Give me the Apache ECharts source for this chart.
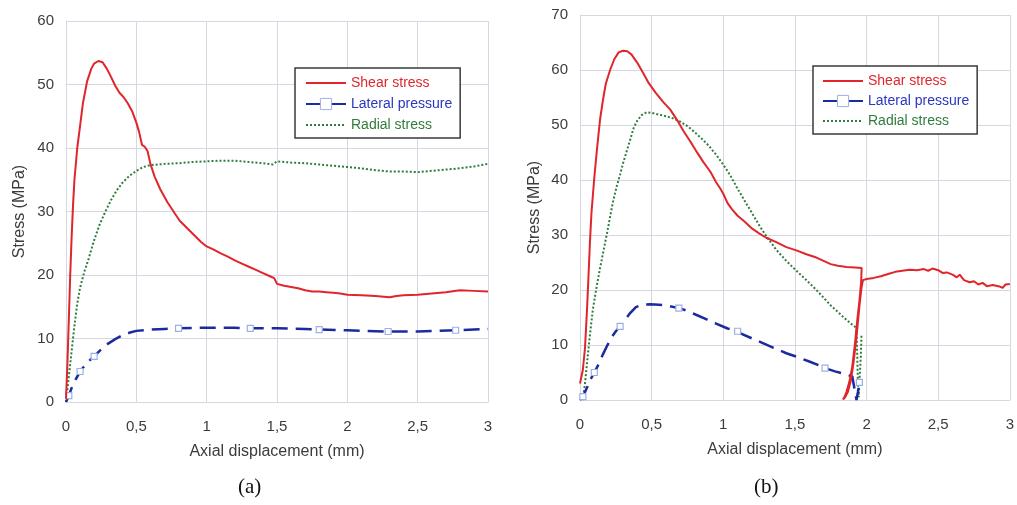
<!DOCTYPE html>
<html>
<head>
<meta charset="utf-8">
<script src="https://cdn.jsdelivr.net/npm/echarts@6/dist/echarts.min.js"></script>
<style>
  html, body { margin: 0; padding: 0; background: #fff; }
  #chart { width: 1017px; height: 505px; }
</style>
</head>
<body>
<div id="chart"></div>
<script>
// Axis ticks
const xTicks = [0, 0.5, 1, 1.5, 2, 2.5, 3];
const yMaxA = 60;
const yMaxB = 70;
const seriesNames = ['Shear stress', 'Lateral pressure', 'Radial stress'];

// (a) — [axial displacement (mm), stress (MPa)]
const shearA = [[0,0.5],[0.01,6],[0.02,13],[0.03,20],[0.04,26],[0.05,31],[0.06,35],[0.08,40],[0.10,43.5],[0.12,47],[0.15,50.5],[0.18,52.5],[0.20,53.3],[0.23,53.7],[0.26,53.5],[0.29,52.5],[0.32,51.2],[0.35,49.8],[0.38,48.7],[0.41,48],[0.44,47],[0.47,45.8],[0.50,44],[0.52,42.5],[0.54,40.5],[0.56,40.2],[0.58,39.5],[0.60,37.5],[0.63,35.5],[0.67,33.5],[0.72,31.5],[0.77,29.8],[0.81,28.5],[0.86,27.4],[0.91,26.3],[0.96,25.2],[1.0,24.5],[1.05,24],[1.1,23.4],[1.15,22.9],[1.2,22.3],[1.25,21.8],[1.3,21.3],[1.35,20.8],[1.4,20.3],[1.45,19.8],[1.48,19.5],[1.5,18.6],[1.55,18.3],[1.6,18.1],[1.65,17.9],[1.7,17.6],[1.75,17.4],[1.8,17.4],[1.85,17.3],[1.9,17.2],[1.95,17.1],[2.0,16.9],[2.1,16.8],[2.2,16.7],[2.3,16.5],[2.35,16.7],[2.4,16.8],[2.5,16.9],[2.6,17.1],[2.7,17.3],[2.8,17.6],[2.9,17.5],[3.0,17.4]];
const lateralA = [[0,0],[0.02,1],[0.05,2.8],[0.1,4.8],[0.15,6.2],[0.2,7.2],[0.25,8.3],[0.3,9.2],[0.35,9.9],[0.4,10.5],[0.45,10.9],[0.5,11.2],[0.6,11.4],[0.7,11.5],[0.8,11.6],[1.0,11.7],[1.2,11.7],[1.31,11.6],[1.5,11.6],[1.7,11.5],[1.8,11.4],[2.0,11.3],[2.29,11.1],[2.5,11.1],[2.77,11.3],[3.0,11.5]];
const radialA = [[0,0],[0.02,4],[0.04,8],[0.06,12],[0.08,15.5],[0.1,18],[0.13,20.5],[0.16,22.5],[0.2,25.5],[0.24,28],[0.28,30],[0.32,31.8],[0.36,33.3],[0.4,34.5],[0.45,35.6],[0.5,36.4],[0.55,37],[0.6,37.3],[0.7,37.5],[0.8,37.6],[0.9,37.8],[1.0,37.9],[1.1,38],[1.2,38],[1.3,37.8],[1.4,37.6],[1.47,37.4],[1.5,37.9],[1.6,37.7],[1.7,37.6],[1.8,37.4],[1.9,37.2],[2.0,37],[2.1,36.8],[2.2,36.5],[2.3,36.3],[2.4,36.3],[2.5,36.2],[2.6,36.4],[2.7,36.6],[2.8,36.8],[2.9,37.1],[3.0,37.5]];
const lateralMarksA = [0.02, 0.1, 0.2, 0.8, 1.31, 1.8, 2.29, 2.77];

// (b) — [axial displacement (mm), stress (MPa)]
const shearB = [[0,3],[0.02,5.5],[0.035,9.5],[0.05,17],[0.06,23],[0.07,29],[0.08,34],[0.1,40.5],[0.12,46],[0.14,51],[0.16,54.5],[0.18,57.5],[0.21,60],[0.24,62],[0.27,63.2],[0.3,63.5],[0.33,63.4],[0.36,62.8],[0.4,61.3],[0.44,59.5],[0.48,57.6],[0.53,55.8],[0.58,54.2],[0.63,52.8],[0.68,50.8],[0.72,49],[0.77,47],[0.81,45.3],[0.86,43.3],[0.91,41.5],[0.95,39.6],[0.98,38.4],[1.0,37.5],[1.03,35.8],[1.06,34.7],[1.1,33.5],[1.15,32.4],[1.2,31.2],[1.25,30.3],[1.3,29.5],[1.37,28.7],[1.44,27.8],[1.51,27.2],[1.58,26.5],[1.65,25.9],[1.7,25.3],[1.75,24.7],[1.8,24.4],[1.86,24.2],[1.92,24.1],[1.966,24.0],[1.962,21.4],[1.95,18],[1.935,14.5],[1.918,10],[1.9,6],[1.88,3.3],[1.86,1.5],[1.845,0.5],[1.835,0.1],[1.85,0.5],[1.87,1.5],[1.89,3.5],[1.91,7],[1.93,11.5],[1.95,17],[1.965,20.5],[1.975,21.8],[2.0,22.0],[2.05,22.2],[2.1,22.5],[2.15,22.9],[2.2,23.3],[2.25,23.5],[2.3,23.7],[2.35,23.6],[2.4,23.8],[2.43,23.5],[2.46,23.9],[2.5,23.6],[2.53,23.1],[2.56,23.2],[2.6,22.8],[2.63,22.3],[2.65,22.8],[2.68,21.8],[2.72,21.4],[2.75,21.6],[2.78,21.0],[2.81,21.3],[2.84,20.7],[2.88,20.9],[2.92,20.7],[2.95,20.4],[2.97,21.0],[3.0,21.1]];
const lateralB = [[0,0],[0.02,0.6],[0.05,2.3],[0.07,3.6],[0.1,5],[0.13,6.5],[0.16,8.3],[0.19,9.9],[0.22,11.4],[0.25,12.5],[0.28,13.4],[0.31,14.4],[0.35,15.8],[0.39,16.9],[0.43,17.3],[0.49,17.4],[0.55,17.3],[0.6,17.2],[0.69,16.7],[0.75,16.2],[0.81,15.5],[0.88,14.7],[0.95,13.9],[1.03,13.0],[1.1,12.5],[1.12,12.1],[1.2,11.2],[1.28,10.3],[1.36,9.4],[1.44,8.5],[1.52,7.8],[1.6,7.0],[1.66,6.4],[1.71,5.8],[1.78,5.2],[1.84,4.8],[1.9,4.3],[1.915,2.2],[1.93,0],[1.94,1.5],[1.95,3.2],[1.955,3.8]];
const radialB = [[0.02,0],[0.035,3],[0.05,7],[0.07,12],[0.09,16.5],[0.116,20.6],[0.14,24],[0.163,27],[0.19,30.5],[0.21,33.3],[0.23,36],[0.256,38.8],[0.28,41],[0.30,43],[0.33,45.6],[0.35,47.3],[0.375,49.5],[0.4,50.8],[0.43,51.8],[0.465,52.3],[0.5,52.2],[0.55,51.9],[0.6,51.6],[0.65,51.2],[0.7,50.6],[0.75,49.8],[0.8,48.7],[0.85,47.5],[0.9,46.2],[0.95,44.6],[1.0,42.8],[1.05,40.8],[1.1,38.4],[1.15,36.2],[1.2,34],[1.25,31.8],[1.3,29.8],[1.37,27.3],[1.44,25.3],[1.51,23.5],[1.58,21.8],[1.65,20],[1.7,18.6],[1.75,17.2],[1.8,16],[1.85,14.8],[1.9,13.7],[1.93,13.1],[1.935,8],[1.94,3],[1.945,0.5],[1.95,3],[1.96,8],[1.965,12]];
const lateralMarksB = [0.02, 0.1, 0.28, 0.69, 1.1, 1.71, 1.95];

const FONT = '"Liberation Sans", Arial, sans-serif';
const RED = '#e0252b';
const BLUE = '#1c2aa0';
const GREEN = '#2f7d3b';
const GRID_LINE = '#d6d7e2';
const TEXT = '#3c3c3c';

// Put hollow squares only on the chosen points of the lateral pressure curve
function withMarks(points, marks) {
  return points.map(p => marks.indexOf(p[0]) >= 0
    ? { value: p }
    : { value: p, symbol: 'none' });
}

function xAxis(gridIndex, nameGap) {
  return {
    type: 'value', gridIndex, min: xTicks[0], max: xTicks[xTicks.length - 1], interval: 0.5,
    name: 'Axial displacement (mm)', nameLocation: 'middle', nameGap,
    nameTextStyle: { fontFamily: FONT, fontSize: 16, color: TEXT },
    axisLine: { show: true, lineStyle: { color: GRID_LINE, width: 1 } },
    axisTick: { show: false },
    axisLabel: {
      fontFamily: FONT, fontSize: 15, color: TEXT, margin: 17,
      formatter: v => String(v).replace('.', ',')
    },
    splitLine: { show: true, showMinLine: true, showMaxLine: true, lineStyle: { color: GRID_LINE, width: 1 } }
  };
}

function yAxis(gridIndex, max, nameGap) {
  return {
    type: 'value', gridIndex, min: 0, max, interval: 10,
    name: 'Stress (MPa)', nameLocation: 'middle', nameGap,
    nameTextStyle: { fontFamily: FONT, fontSize: 16, color: TEXT },
    axisLine: { show: true, lineStyle: { color: GRID_LINE, width: 1 } },
    axisTick: { show: false },
    axisLabel: { fontFamily: FONT, fontSize: 15, color: TEXT, margin: 12 },
    splitLine: { show: true, showMinLine: true, showMaxLine: true, lineStyle: { color: GRID_LINE, width: 1 } }
  };
}

function curves(idx, shear, lateral, radial, marks) {
  return [
    {
      name: seriesNames[0], type: 'line', xAxisIndex: idx, yAxisIndex: idx,
      data: shear, symbol: 'none', smooth: false,
      lineStyle: { color: RED, width: 2 }, itemStyle: { color: RED }, z: 3
    },
    {
      name: seriesNames[1], type: 'line', xAxisIndex: idx, yAxisIndex: idx,
      data: withMarks(lateral, marks), symbol: 'rect', symbolSize: 6,
      showSymbol: true, showAllSymbol: true,
      lineStyle: { color: BLUE, width: 2.5, type: [16, 8] },
      itemStyle: { color: '#ffffff', borderColor: '#9db0e6', borderWidth: 1.2 }, z: 2
    },
    {
      name: seriesNames[2], type: 'line', xAxisIndex: idx, yAxisIndex: idx,
      data: radial, symbol: 'none',
      lineStyle: { color: GREEN, width: 2, type: [2, 2] }, itemStyle: { color: GREEN }, z: 1
    }
  ];
}

function legend(left, top, itemGap, padding) {
  return {
    orient: 'vertical', left, top, itemGap, padding,
    itemWidth: 40, itemHeight: 14,
    backgroundColor: '#ffffff', borderColor: '#3a3a3a', borderWidth: 1.5, borderRadius: 0,
    textStyle: { fontFamily: FONT, fontSize: 14 },
    data: [
      { name: seriesNames[0], textStyle: { color: RED }, itemStyle: { opacity: 0 } },
      { name: seriesNames[1], textStyle: { color: '#2b35c0' }, itemStyle: { borderWidth: 1 } },
      { name: seriesNames[2], textStyle: { color: GREEN }, itemStyle: { opacity: 0 } }
    ],
    selectedMode: false
  };
}

const chart = echarts.init(document.getElementById('chart'), null, { renderer: 'canvas' });
chart.setOption({
  animation: false,
  backgroundColor: '#ffffff',
  grid: [
    { left: 66, top: 21, width: 422, height: 381 },
    { left: 580, top: 15, width: 430, height: 385 }
  ],
  xAxis: [xAxis(0, 42), xAxis(1, 42)],
  yAxis: [yAxis(0, yMaxA, 38), yAxis(1, yMaxB, 37)],
  legend: [
    legend(295, 68, 7, [8, 8, 6, 10]),
    legend(813, 66, 6, [8, 8, 6, 9])
  ],
  graphic: [
    { type: 'text', left: 238, top: 477, style: { text: '(a)', font: '21px "Liberation Serif", "DejaVu Serif", serif', fill: '#111' } },
    { type: 'text', left: 754, top: 477, style: { text: '(b)', font: '21px "Liberation Serif", "DejaVu Serif", serif', fill: '#111' } }
  ],
  series: [
    ...curves(0, shearA, lateralA, radialA, lateralMarksA),
    ...curves(1, shearB, lateralB, radialB, lateralMarksB)
  ]
});
</script>
</body>
</html>
